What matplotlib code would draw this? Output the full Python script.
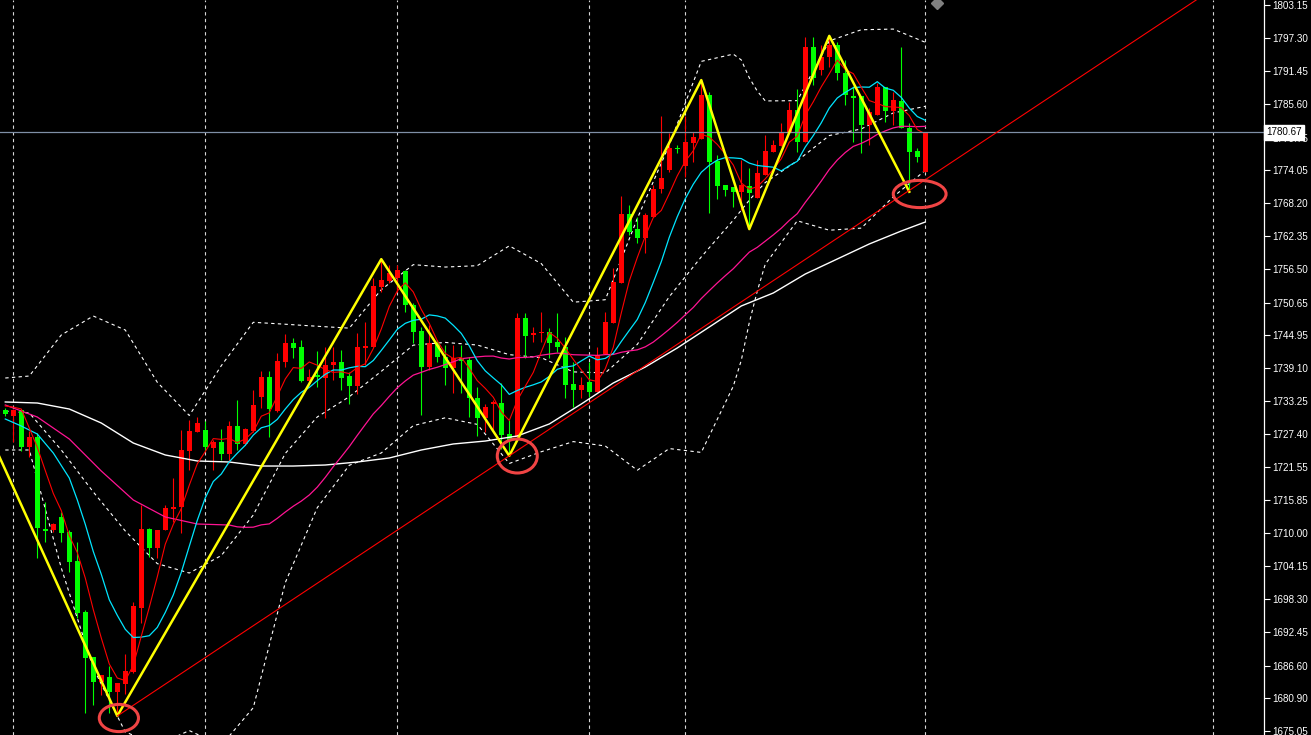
import matplotlib
matplotlib.use("Agg")
import matplotlib.pyplot as plt
import matplotlib.transforms as mtransforms
import numpy as np
from matplotlib.patches import Ellipse

# ---- candle data (one bar per slot, left to right) ----
opens = [1731.69, 1730.63, 1731.69, 1725.16, 1726.92, 1710.69, 1710.51, 1712.81, 1710.16, 1705.04,
         1696.04, 1688.10, 1683.69, 1684.57, 1681.92, 1683.34, 1685.46, 1696.75, 1710.69, 1707.34,
         1710.51, 1714.22, 1714.57, 1724.45, 1727.81, 1728.16, 1724.98, 1726.04, 1723.92, 1728.86,
         1725.69, 1727.98, 1733.98, 1737.51, 1731.51, 1740.16, 1743.51, 1742.80, 1736.80, 1737.86,
         1737.33, 1739.63, 1740.16, 1737.68, 1735.92, 1742.63, 1742.80, 1753.39, 1754.45, 1754.98,
         1756.21, 1750.21, 1745.63, 1739.27, 1743.51, 1741.04, 1739.10, 1740.86, 1740.51, 1733.80,
         1730.27, 1732.74, 1732.92, 1727.45, 1726.92, 1747.92, 1744.92, 1745.27, 1745.45, 1743.68,
         1742.80, 1736.27, 1735.22, 1736.63, 1734.86, 1741.57, 1747.04, 1754.10, 1766.27, 1763.62,
         1762.03, 1765.74, 1770.68, 1774.03, 1777.92, 1774.74, 1778.80, 1779.50, 1787.27, 1775.62,
         1771.39, 1771.03, 1770.15, 1771.21, 1769.09, 1773.15, 1777.21, 1778.27, 1780.56, 1784.62,
         1778.97, 1795.74, 1791.68, 1793.97, 1796.09, 1791.15, 1787.09, 1787.09, 1781.97, 1783.74,
         1788.68, 1784.44, 1786.21, 1781.44, 1777.39, 1773.68]
highs = [1732.04, 1731.86, 1731.86, 1727.98, 1727.63, 1715.45, 1711.75, 1713.69, 1710.51, 1708.40,
         1696.40, 1688.10, 1684.93, 1686.51, 1683.51, 1688.63, 1697.81, 1714.92, 1710.87, 1710.51,
         1714.92, 1719.69, 1728.16, 1729.92, 1730.45, 1729.75, 1726.39, 1728.33, 1729.75, 1733.45,
         1728.51, 1735.22, 1738.57, 1738.57, 1741.74, 1745.10, 1744.39, 1744.04, 1738.92, 1742.09,
         1742.80, 1742.80, 1742.27, 1738.39, 1745.27, 1747.22, 1754.98, 1758.30, 1757.27, 1757.27,
         1756.39, 1750.57, 1746.33, 1746.68, 1744.04, 1743.15, 1743.15, 1743.15, 1741.04, 1735.75,
         1732.74, 1733.45, 1736.45, 1729.92, 1748.80, 1748.80, 1746.33, 1748.98, 1746.15, 1748.80,
         1744.56, 1740.16, 1737.51, 1740.16, 1742.80, 1748.98, 1756.74, 1769.45, 1767.86, 1765.74,
         1766.45, 1771.39, 1783.56, 1780.56, 1778.45, 1783.56, 1780.74, 1789.90, 1787.80, 1776.68,
         1771.39, 1771.03, 1775.80, 1774.39, 1775.80, 1780.21, 1779.33, 1782.33, 1786.03, 1788.33,
         1797.50, 1797.50, 1796.09, 1797.70, 1796.62, 1793.44, 1788.86, 1787.09, 1784.97, 1789.38,
         1788.68, 1787.80, 1795.74, 1782.33, 1777.92, 1780.74]
lows = [1730.63, 1726.04, 1724.45, 1723.39, 1705.57, 1708.40, 1710.16, 1708.40, 1703.10, 1694.98,
        1678.22, 1679.63, 1681.40, 1678.22, 1677.70, 1681.57, 1685.28, 1694.10, 1705.75, 1705.57,
        1710.51, 1711.92, 1709.98, 1721.10, 1727.81, 1724.45, 1721.10, 1722.86, 1722.33, 1724.63,
        1725.51, 1727.81, 1732.04, 1726.92, 1731.33, 1739.27, 1740.86, 1736.63, 1736.63, 1735.75,
        1730.27, 1736.98, 1735.22, 1732.74, 1734.51, 1739.63, 1742.80, 1752.51, 1754.10, 1752.51,
        1748.98, 1743.51, 1730.80, 1738.74, 1740.16, 1736.10, 1734.69, 1734.69, 1730.45, 1727.10,
        1727.80, 1728.16, 1724.80, 1723.60, 1726.92, 1740.86, 1743.68, 1743.68, 1740.86, 1741.92,
        1733.80, 1732.22, 1733.80, 1733.98, 1734.86, 1741.57, 1747.04, 1754.10, 1762.56, 1761.15,
        1759.39, 1765.74, 1769.98, 1773.68, 1777.03, 1772.80, 1775.44, 1779.50, 1766.45, 1768.92,
        1769.45, 1767.50, 1766.97, 1763.60, 1769.09, 1773.15, 1777.21, 1778.27, 1780.56, 1777.21,
        1778.97, 1789.03, 1790.80, 1792.21, 1789.91, 1785.50, 1778.97, 1777.03, 1778.44, 1783.74,
        1782.50, 1781.97, 1781.44, 1770.20, 1775.44, 1773.68]
closes = [1730.98, 1731.69, 1725.16, 1726.92, 1710.87, 1710.34, 1711.57, 1709.98, 1704.87, 1695.87,
          1687.93, 1683.69, 1684.93, 1681.92, 1683.51, 1685.63, 1697.10, 1710.69, 1707.34, 1710.51,
          1714.39, 1714.57, 1724.63, 1727.98, 1729.39, 1725.16, 1726.04, 1723.92, 1728.86, 1725.69,
          1728.33, 1732.57, 1737.51, 1731.86, 1740.33, 1743.51, 1742.63, 1736.80, 1737.51, 1737.51,
          1739.63, 1740.16, 1737.33, 1735.92, 1742.80, 1742.98, 1753.56, 1754.62, 1755.86, 1756.39,
          1750.21, 1745.45, 1739.27, 1743.51, 1741.04, 1739.10, 1740.86, 1740.33, 1733.80, 1730.27,
          1732.22, 1733.10, 1727.27, 1726.39, 1747.92, 1744.74, 1745.27, 1745.45, 1743.51, 1742.80,
          1736.10, 1735.22, 1736.10, 1734.86, 1741.39, 1747.22, 1754.27, 1766.27, 1763.09, 1762.03,
          1766.09, 1770.68, 1772.62, 1777.92, 1777.74, 1778.97, 1779.86, 1787.27, 1775.44, 1771.21,
          1770.50, 1770.15, 1771.39, 1769.97, 1773.50, 1777.39, 1778.45, 1780.74, 1784.62, 1778.97,
          1795.74, 1790.27, 1793.97, 1796.09, 1791.15, 1787.27, 1786.74, 1781.97, 1784.27, 1788.68,
          1784.44, 1786.39, 1781.44, 1777.21, 1776.33, 1780.67]

# ---- indicator lines ----
# fast red average, one value per bar
fast_ma = [1732.39, 1732.20, 1731.86, 1728.51, 1725.12, 1721.00, 1716.97, 1713.94, 1709.53, 1706.53,
           1702.04, 1696.47, 1691.46, 1686.87, 1684.40, 1683.94, 1686.62, 1691.77, 1696.85, 1702.25,
           1708.01, 1711.50, 1714.29, 1718.42, 1722.19, 1724.35, 1726.64, 1726.50, 1726.67, 1725.93,
           1726.57, 1727.87, 1730.59, 1731.19, 1734.12, 1737.16, 1739.17, 1739.03, 1740.16, 1739.59,
           1738.82, 1738.32, 1738.43, 1738.11, 1739.17, 1739.84, 1742.52, 1745.98, 1749.96, 1752.68,
           1754.13, 1752.51, 1749.44, 1746.97, 1743.90, 1741.67, 1740.76, 1740.97, 1739.03, 1736.87,
           1735.50, 1733.94, 1731.33, 1729.85, 1733.38, 1735.88, 1738.32, 1741.95, 1745.38, 1744.35,
           1742.63, 1740.62, 1738.75, 1737.02, 1736.73, 1738.96, 1742.77, 1748.80, 1754.45, 1758.58,
           1762.35, 1765.63, 1766.90, 1769.87, 1773.01, 1775.59, 1777.42, 1780.35, 1779.86, 1778.55,
           1776.86, 1774.91, 1771.74, 1770.64, 1771.10, 1772.48, 1774.14, 1776.01, 1778.94, 1780.03,
           1783.70, 1786.07, 1788.71, 1791.01, 1793.44, 1791.75, 1791.04, 1788.64, 1786.28, 1785.79,
           1785.22, 1785.15, 1785.04, 1783.63, 1781.16, 1780.41]
# cyan average: bars 0,2,4,6,8 then every bar from 9
cyan_ma = [1730.10, 1728.86, 1727.45, 1724.10, 1719.69,
           1715.83, 1711.52, 1706.72, 1702.70, 1698.20, 1695.46, 1692.99, 1691.54, 1691.61, 1691.86,
           1693.32, 1695.97, 1699.06, 1703.03, 1707.64, 1712.22, 1716.18, 1719.07, 1720.39, 1722.55,
           1724.06, 1725.46, 1727.26, 1728.55, 1728.93, 1730.03, 1731.86, 1733.52, 1734.81, 1735.67,
           1736.86, 1737.99, 1738.75, 1738.73, 1739.13, 1739.38, 1739.33, 1740.42, 1742.20, 1744.04,
           1745.93, 1746.98, 1747.51, 1747.71, 1748.47, 1748.29, 1747.90, 1746.63, 1745.20, 1743.00,
           1740.38, 1738.59, 1737.35, 1736.15, 1734.44, 1735.13, 1735.69, 1736.13, 1736.64, 1737.61,
           1738.87, 1739.26, 1739.47, 1740.35, 1741.20, 1740.54, 1740.79, 1741.69, 1743.77, 1745.73,
           1747.66, 1750.65, 1754.20, 1757.85, 1762.16, 1765.79, 1768.97, 1771.53, 1773.63, 1774.86,
           1775.78, 1776.22, 1776.17, 1776.05, 1775.25, 1774.83, 1774.67, 1774.53, 1773.87, 1774.79,
           1775.57, 1778.09, 1780.10, 1782.36, 1784.97, 1786.74, 1787.73, 1788.56, 1788.68, 1788.64,
           1789.62, 1788.49, 1788.10, 1786.84, 1784.96, 1783.47, 1782.81]
# pink average: every 4th bar up to 28, then every bar from 29
pink_ma = [1732.57, 1730.45, 1726.57, 1720.92, 1715.81, 1712.81, 1711.57, 1711.39,
           1711.07, 1710.98, 1711.01, 1711.42, 1711.59, 1712.57, 1713.68, 1714.71, 1715.61, 1716.69,
           1718.08, 1719.80, 1721.69, 1723.43, 1725.23, 1727.21, 1729.12, 1731.00, 1732.47, 1734.09,
           1735.61, 1736.81, 1737.84, 1738.33, 1738.84, 1739.23, 1739.70, 1740.19, 1740.74, 1740.90,
           1741.06, 1741.18, 1741.20, 1740.86, 1740.68, 1740.93, 1740.97, 1741.06, 1741.35, 1741.55,
           1741.73, 1741.61, 1741.44, 1741.40, 1741.37, 1741.32, 1741.46, 1741.48, 1741.87, 1742.11,
           1742.30, 1742.83, 1743.67, 1744.78, 1745.93, 1747.15, 1748.48, 1749.78, 1751.35, 1752.74,
           1754.10, 1755.38, 1756.61, 1758.08, 1759.54, 1760.39, 1761.48, 1762.58, 1763.76, 1765.13,
           1766.33, 1768.32, 1770.16, 1772.09, 1774.13, 1775.79, 1777.12, 1778.20, 1778.73, 1779.43,
           1780.32, 1780.93, 1781.46, 1781.75, 1781.73, 1781.68, 1781.74]
# slow white average, every 4th bar and the last one
white_ma = [1733.10, 1732.92, 1731.86, 1729.39, 1725.86, 1723.75, 1722.69, 1722.51, 1721.80, 1721.80,
            1721.98, 1722.51, 1723.22, 1724.63, 1725.69, 1726.21, 1727.10, 1729.22, 1732.74, 1736.45,
            1739.27, 1742.63, 1746.33, 1750.04, 1752.33, 1755.68, 1758.33, 1760.98, 1763.27, 1764.86]

# bollinger bands (upper / middle / lower)
bb_bars = [0, 3, 7, 11, 15, 19, 23, 27, 31, 35, 39, 43, 47, 51, 55, 59, 63, 67, 71, 75, 79, 83, 87, 91,
           92, 93, 94, 95, 99, 103, 107, 111, 115]
bb_upper = [1737.33, 1737.68, 1744.92, 1748.27, 1745.80, 1736.58, 1730.72, 1739.50, 1747.16, 1746.82,
            1746.46, 1746.13, 1752.91, 1757.33, 1756.91, 1757.15, 1760.65, 1757.52, 1750.71, 1751.14,
            1765.46, 1778.48, 1793.20, 1794.48, 1793.45, 1790.30, 1787.96,
            1786.22, 1786.27, 1796.81, 1798.78, 1798.90, 1796.57]
bb_mid = [1731.50, 1731.16, 1724.63, 1717.22, 1710.34, 1704.58, 1702.92, 1706.00, 1713.16, 1724.02,
          1730.46, 1734.03, 1738.51, 1743.13, 1743.61, 1743.15, 1741.45, 1740.92, 1738.41, 1738.24,
          1743.26, 1751.68, 1758.70, 1765.18, 1766.95, 1768.70, 1770.31,
          1771.82, 1775.67, 1780.11, 1781.28, 1784.10, 1785.27]
bb_lower = [1724.63, 1724.63, 1703.81, 1686.16, 1674.87, 1672.58, 1675.12, 1672.50, 1679.16, 1701.22,
            1714.46, 1721.93, 1724.11, 1728.93, 1730.31, 1729.15, 1722.25, 1724.32, 1726.11, 1725.34,
            1721.06, 1724.88, 1724.20, 1735.88, 1740.45, 1747.10, 1752.66,
            1757.42, 1765.07, 1763.41, 1763.78, 1769.30, 1773.97]

# zigzag turning points (bar, price)
zz_bars = [-3, 14, 47, 63, 87, 93, 103, 113]
zz_prices = [1730.45, 1677.70, 1758.30, 1723.60, 1789.90, 1763.60, 1797.70, 1770.20]

# trend line anchors and circled lows
trend_bars = [14, 63]
trend_prices = [1677.70, 1723.60]
circle_bars = [14.2, 64.0, 114.3]
circle_prices = [1677.34, 1723.57, 1769.80]
circle_w = [4.9, 5.0, 6.6]
circle_h = [4.8, 6.0, 4.8]

separators = [1, 25, 49, 73, 85, 115, 151]
bid = 1780.67
price_ticks = [1675.05, 1680.90, 1686.60, 1692.45, 1698.30, 1704.15, 1710.00, 1715.85,
               1721.55, 1727.40, 1733.25, 1739.10, 1744.95, 1750.65, 1756.50, 1762.35,
               1768.20, 1774.05, 1779.75, 1785.60, 1791.45, 1797.30, 1803.15]

n = len(closes)
bars = np.arange(n)
fast_bars = np.arange(n)
cyan_bars = np.r_[[0, 2, 4, 6, 8], np.arange(9, n)]
pink_bars = np.r_[np.arange(0, 29, 4), np.arange(29, n)]
slow_bars = np.r_[np.arange(0, 113, 4), 115]

fig = plt.figure(figsize=(13.11, 7.35), dpi=100, facecolor="black")
ax = fig.add_axes([0, 0, 1264 / 1311, 1])
ax.set_facecolor("black")
ax.set_xlim(-0.66, 157.34)
ax.set_ylim(1674.34, 1804.03)

# period separators
for s in separators:
    ax.axvline(s, color="#d8d8d8", lw=0.8, ls=(0, (3, 3)), zorder=1)

# bollinger bands, dashed
for band in (bb_upper, bb_mid, bb_lower):
    ax.plot(bb_bars, band, color="white", lw=0.8, ls=(0, (3, 3)), zorder=1.5)

# candles: red = up, green = down
o = np.array(opens)
c = np.array(closes)
up = c >= o
colors = np.where(up, "#ff0000", "#00ff00")
ax.vlines(bars, lows, highs, colors=colors, lw=0.8, zorder=2)
body_low = np.minimum(o, c)
body_h = np.maximum(np.abs(c - o), 0.2)
ax.bar(bars, body_h, bottom=body_low, width=0.62, color=colors, lw=0, zorder=2)

# moving averages
ax.plot(slow_bars, white_ma, color="white", lw=1.0, zorder=3)
ax.plot(pink_bars, pink_ma, color="#ff1493", lw=0.9, zorder=3)
ax.plot(cyan_bars, cyan_ma, color="#00e5ff", lw=0.9, zorder=3)
ax.plot(fast_bars, fast_ma, color="#ff0000", lw=0.8, zorder=3)

# zigzag
ax.plot(zz_bars, zz_prices, color="#ffff00", lw=1.8, zorder=4)

# trend line from the first low to the right edge
slope = (trend_prices[1] - trend_prices[0]) / (trend_bars[1] - trend_bars[0])
x_end = 157.34
ax.plot([trend_bars[0], x_end],
        [trend_prices[0], trend_prices[0] + slope * (x_end - trend_bars[0])],
        color="#ff0000", lw=0.8, zorder=4)

for cx, cy, w, h in zip(circle_bars, circle_prices, circle_w, circle_h):
    ax.add_patch(Ellipse((cx, cy), w, h, fill=False, ec="#f04444", lw=2.2, zorder=5))

# bid line
ax.axhline(bid, color="#7f8fa6", lw=0.9, zorder=3)

# price scale on the right
for side in ["top", "bottom", "left"]:
    ax.spines[side].set_visible(False)
ax.spines["right"].set_color("white")
ax.spines["right"].set_linewidth(0.9)
ax.set_xticks([])
ax.yaxis.tick_right()
ax.set_yticks(price_ticks)
ax.set_yticklabels([f"{p:.2f}" for p in price_ticks], family="Liberation Sans")
ax.tick_params(axis="y", colors="white", labelcolor="white", length=4, width=0.8,
               labelsize=7.1, pad=2)

trans = mtransforms.blended_transform_factory(ax.transAxes, ax.transData)
ax.text(1.0015, bid, f"{bid:.2f}", transform=trans, ha="left", va="center", fontsize=7.1,
        family="Liberation Sans", color="black", zorder=10, clip_on=False,
        bbox=dict(boxstyle="square,pad=0.22", fc="white", ec="white"))

# chart shift marker at the top
ax.plot([116.5], [1803.5], marker="D", color="#808080", ms=6, clip_on=False, zorder=6)

fig.savefig("out.png", dpi=100, facecolor="black")
